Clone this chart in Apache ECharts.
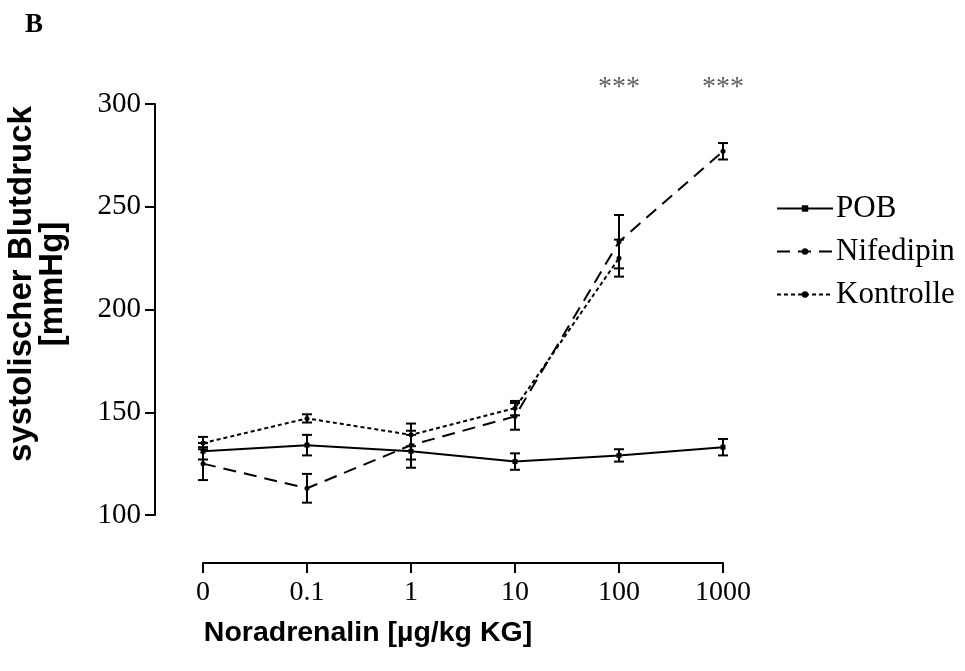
<!DOCTYPE html>
<html>
<head>
<meta charset="utf-8">
<script src="https://cdn.jsdelivr.net/npm/echarts@6/dist/echarts.min.js"></script>
<style>
  html, body { margin: 0; padding: 0; background: #fff; }
  #chart { width: 965px; height: 671px; }
</style>
</head>
<body>
<div id="chart"></div>
<script>
// Noradrenalin doses (x categories)
var categories = ['0', '0.1', '1', '10', '100', '1000'];

// systolic blood pressure, mean and SEM
var pobMean = [131, 134, 131, 126, 129, 133];
var pobErr  = [4, 5, 8, 4, 3, 4];
var nifMean = [125, 113, 134, 148, 233, 277];
var nifErr  = [8, 7, 7, 6.5, 13, 4];
var konMean = [135, 147, 139, 152, 225, null];
var konErr  = [3, 2, 5.5, 3.5, 9, null];

// significance marks
var sigIdx = [4, 5];
var sigText = '***';

var serif = '"Liberation Serif", "Times New Roman", serif';
var sans = '"Liberation Sans", Arial, sans-serif';

function errData(mean, err) {
    var out = [];
    for (var i = 0; i < mean.length; i++) {
        if (mean[i] == null) continue;
        out.push([i, mean[i] - err[i], mean[i] + err[i]]);
    }
    return out;
}

function errorBars(name, mean, err) {
    return {
        type: 'custom',
        name: name + '_err',
        silent: true,
        z: 3,
        data: errData(mean, err),
        renderItem: function (params, api) {
            var lo = api.coord([api.value(0), api.value(1)]);
            var hi = api.coord([api.value(0), api.value(2)]);
            var w = 5;
            var st = { stroke: '#000', lineWidth: 2 };
            return {
                type: 'group',
                children: [
                    { type: 'line', shape: { x1: lo[0], y1: lo[1], x2: hi[0], y2: hi[1] }, style: st },
                    { type: 'line', shape: { x1: lo[0] - w, y1: lo[1], x2: lo[0] + w, y2: lo[1] }, style: st },
                    { type: 'line', shape: { x1: hi[0] - w, y1: hi[1], x2: hi[0] + w, y2: hi[1] }, style: st }
                ]
            };
        }
    };
}

function lineSeries(name, data, dash, symbol) {
    return {
        type: 'line',
        name: name,
        data: data,
        symbol: symbol,
        symbolSize: 5,
        showSymbol: true,
        connectNulls: false,
        z: 4,
        itemStyle: { color: '#000' },
        lineStyle: { color: '#000', width: 2, type: dash }
    };
}

var chart = echarts.init(document.getElementById('chart'));
chart.setOption({
    animation: false,
    backgroundColor: '#fff',
    grid: { left: 203, right: 242, top: 104, bottom: 156 },
    legend: {
        data: ['POB', 'Nifedipin', 'Kontrolle'],
        orient: 'vertical',
        left: 771,
        top: 188,
        itemWidth: 56,
        itemHeight: 8,
        itemGap: 12,
        textStyle: { fontFamily: serif, fontSize: 31, color: '#000', lineHeight: 31, padding: [0, 0, 0, -2] }
    },
    xAxis: {
        type: 'category',
        data: categories,
        boundaryGap: false,
        offset: 48,
        axisLine: { lineStyle: { color: '#000', width: 2 } },
        axisTick: { alignWithLabel: true, length: 10, lineStyle: { color: '#000', width: 2 } },
        axisLabel: { fontFamily: serif, fontSize: 28, color: '#000', margin: 16 },
        splitLine: { show: false }
    },
    yAxis: {
        type: 'value',
        min: 100,
        max: 300,
        interval: 50,
        offset: 48,
        axisLine: { show: true, lineStyle: { color: '#000', width: 2 } },
        axisTick: { show: true, length: 10, lineStyle: { color: '#000', width: 2 } },
        axisLabel: { fontFamily: serif, fontSize: 29, color: '#000', margin: 14 },
        splitLine: { show: false }
    },
    graphic: [
        {
            type: 'text', x: 34, y: 25,
            style: {
                text: 'B', fontSize: 27, fontWeight: 'bold', fontFamily: serif, fill: '#000',
                align: 'center', verticalAlign: 'middle'
            }
        },
        {
            type: 'text', x: 37, y: 284, rotation: Math.PI / 2,
            style: {
                text: 'systolischer Blutdruck\n[mmHg]',
                fontSize: 33, fontWeight: 'bold', fontFamily: sans, fill: '#000',
                align: 'center', verticalAlign: 'middle', lineHeight: 31
            }
        },
        {
            type: 'text', x: 368, y: 633,
            style: {
                text: 'Noradrenalin [µg/kg KG]',
                fontSize: 28.5, fontWeight: 'bold', fontFamily: sans, fill: '#000',
                align: 'center', verticalAlign: 'middle'
            }
        }
    ],
    series: [
        lineSeries('POB', pobMean, 'solid', 'rect'),
        lineSeries('Nifedipin', nifMean, [13, 8], 'circle'),
        lineSeries('Kontrolle', konMean, [4, 3], 'circle'),
        errorBars('POB', pobMean, pobErr),
        errorBars('Nifedipin', nifMean, nifErr),
        errorBars('Kontrolle', konMean, konErr),
        {
            type: 'scatter',
            name: 'sig',
            silent: true,
            clip: false,
            symbolSize: 0,
            data: sigIdx.map(function (i) { return [i, 300]; }),
            label: {
                show: true,
                formatter: sigText,
                position: 'inside',
                offset: [0, -16],
                fontFamily: serif,
                fontSize: 28,
                color: '#333'
            }
        }
    ]
});
</script>
</body>
</html>
